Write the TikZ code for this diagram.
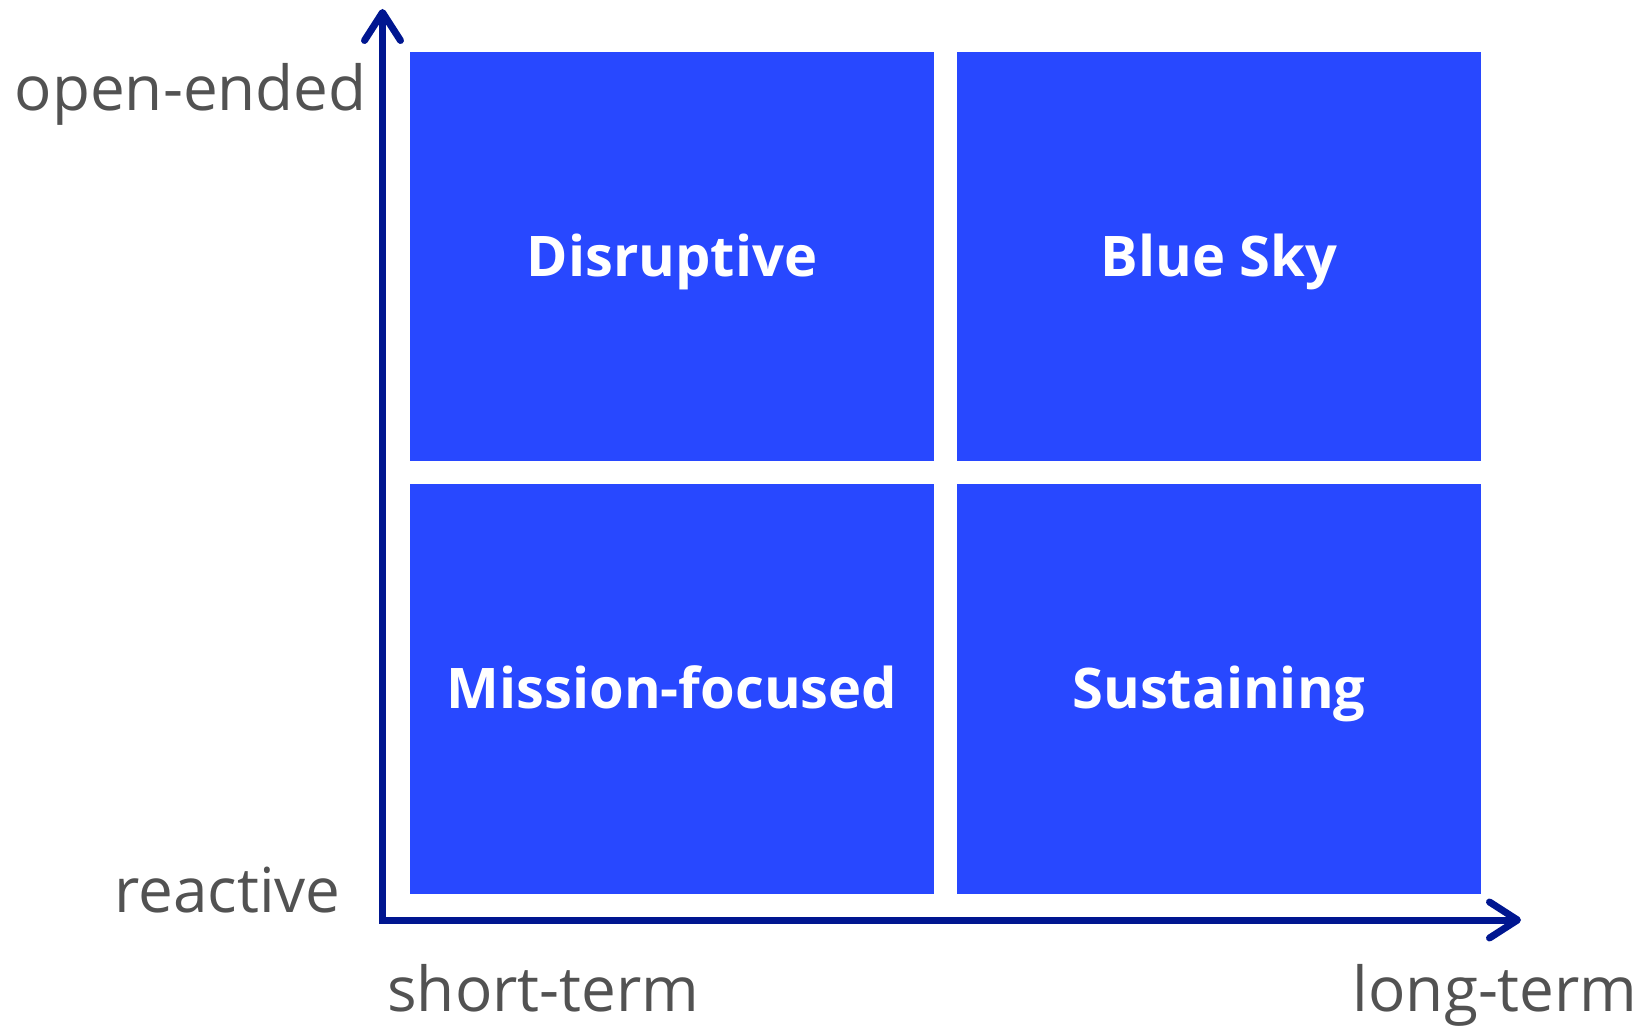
\documentclass[tikz,border=0pt]{standalone}
\usepackage{fontspec}
\setmainfont{Open Sans}
\usepackage{xcolor}
\usepackage{tikz}
\usetikzlibrary{arrows.meta}

\definecolor{quadblue}{RGB}{40,72,255}
\definecolor{axisblue}{RGB}{0,22,144}
\definecolor{labelgray}{RGB}{82,82,82}

\begin{document}
\begin{tikzpicture}[x=0.5pt, y=-0.5pt,
    quad/.style={rectangle, fill=quadblue, minimum width=262pt, minimum height=204.5pt,
        inner sep=0pt, text=white, text height=20pt, text depth=0pt,
        font=\fontsize{28}{34}\selectfont\bfseries},
    axislabel/.style={text=labelgray, inner sep=0pt, font=\fontsize{31}{37}\selectfont},
    axis/.style={draw=axisblue, line width=3.5pt,
        {Straight Barb[round, length=14pt, width=18pt]}-{Straight Barb[round, length=14pt, width=18pt]}}]
    \useasboundingbox (0,0) rectangle (1646,1026);

    % Quadrants
    \node[quad] (disrupt) at (672,256.5) {Disruptive};
    \node[quad] (bluesky) at (1219,256.5) {Blue Sky};
    \node[quad] (mission) at (672,689) {Mission-focused};
    \node[quad] (sustain) at (1219,689) {Sustaining};

    % Axes
    \coordinate (origin) at (382.5,920);
    \coordinate (ytip) at (382.5,9);
    \coordinate (xtip) at (1521,920);
    \draw[axis] (ytip) -- (origin) -- (xtip);

    % Axis labels
    \node[axislabel, anchor=base east] (open) at (367,111) {open-ended};
    \node[axislabel, anchor=base east] (react) at (341,913) {reactive};
    \node[axislabel, anchor=base west] (short) at (387,1011) {short-term};
    \node[axislabel, anchor=base east] (long) at (1638,1011) {long-term};
\end{tikzpicture}
\end{document}
